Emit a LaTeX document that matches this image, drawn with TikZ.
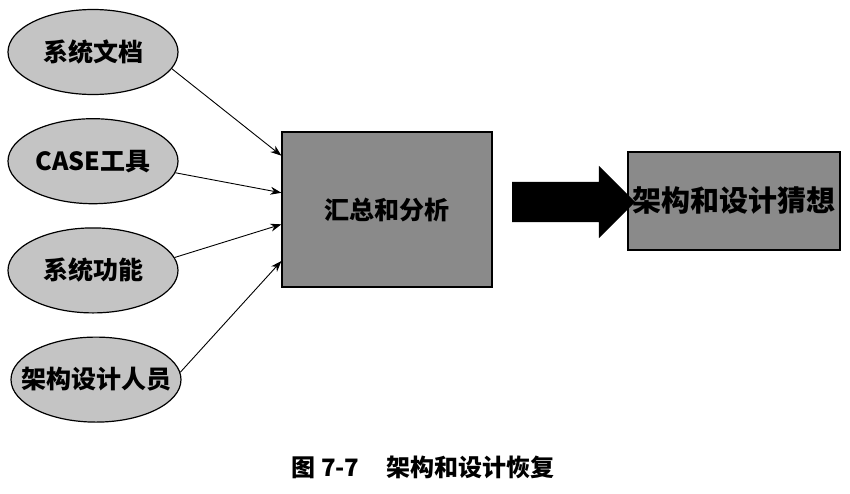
\documentclass[tikz,border=0pt]{standalone}
\usepackage{fontspec}
\setmainfont{Noto Sans CJK SC}
\usepackage{tikz}
\usetikzlibrary{shapes.geometric,shapes.arrows,arrows.meta,positioning}
\definecolor{srcfill}{HTML}{C4C4C4}
\definecolor{boxfill}{HTML}{8A8A8A}

\begin{document}
\begin{tikzpicture}[x=1pt,y=-1pt,font=\bfseries,
  src/.style={draw,ellipse,line width=1.2pt,fill=srcfill,minimum width=170pt,minimum height=85pt,inner sep=0pt,font=\bfseries\fontsize{25}{28}\selectfont},
  proc/.style={draw,line width=1.2pt,fill=boxfill,inner sep=0pt},
  arr/.style={-{Stealth[length=11pt,width=8pt]},line width=0.9pt}]
\useasboundingbox (0,0) rectangle (850,493);
\node[src] (e1) at (93,52) {系统文档};
\node[src,below=23pt of e1] (e2) {CASE工具};
\node[src,below=23pt of e2] (e3) {系统功能};
\node[src,below=23pt of e3,xshift=3pt] (e4) {\makebox[0pt]{架构设计人员}};
\node[proc,minimum width=210pt,minimum height=155pt,font=\bfseries\fontsize{25}{28}\selectfont] (b1) at (387,209.5) {汇总和分析};
\node[proc,minimum width=212pt,minimum height=98pt,font=\bfseries\fontsize{29}{32}\selectfont] (b2) at (734,201) {架构和设计猜想};
\node[single arrow,fill=black,draw=none,minimum height=123pt,minimum width=72pt,
  single arrow head extend=16pt,single arrow head indent=0pt,inner xsep=0pt,inner ysep=20pt] (go) at (563.5,202) {};
\draw[arr] (e1.-12) -- (b1.153);
\draw[arr] (e2.-8) -- (b1.171);
\draw[arr] (e3.9) -- (b1.188);
\draw[arr] (e4.5) -- (b1.206);
\node[font=\bfseries\fontsize{24}{28}\selectfont] (cap) at (423,467) {图 7-7\hspace{27pt}架构和设计恢复};
\end{tikzpicture}
\end{document}
